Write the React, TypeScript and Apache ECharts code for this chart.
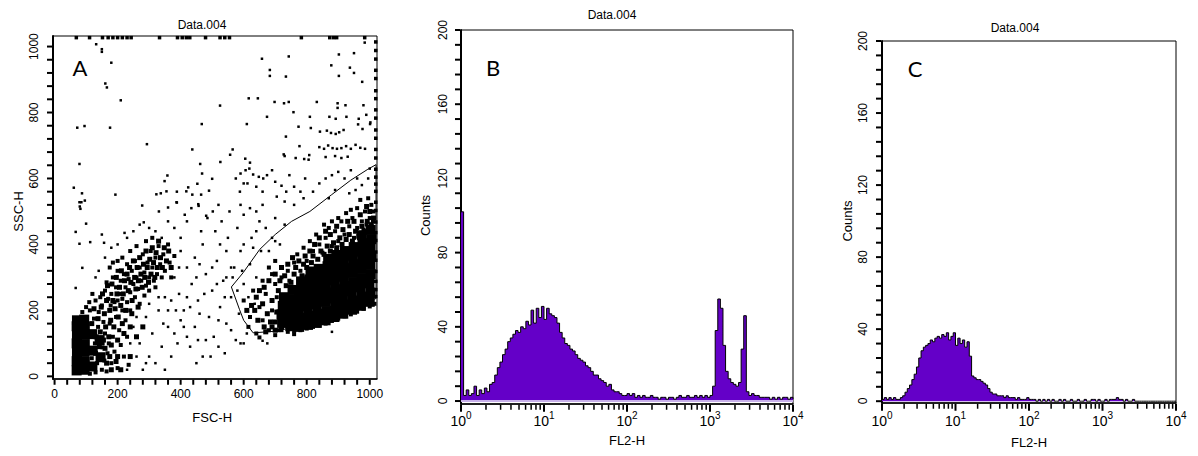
import React, { useEffect, useRef } from "react";
import * as echarts from "echarts";

// ---------- Panel A data: FSC-H vs SSC-H ----------
const aGate = [
  [561, 271], [598, 314], [651, 385], [700, 430], [752, 470], [810, 500], [878, 550],
  [940, 595], [994, 628], [1020, 642], [1020, 236], [1011, 233], [915, 192], [810, 162],
  [704, 137], [630, 132], [600, 170], [587, 202], [561, 271],
];

const aCore = [
  [70, 18], [95, 20], [70, 46], [96, 44], [71, 72], [95, 74], [70, 100], [96, 98], [71, 126], [95, 128],
  [70, 152], [96, 150], [71, 170], [94, 172], [120, 30], [121, 78], [119, 128], [146, 58], [143, 110],
  [722, 162], [720, 188], [724, 214], [728, 240],
  [748, 152], [750, 180], [747, 207], [752, 234], [755, 262],
  [776, 150], [778, 178], [775, 206], [779, 233], [777, 260], [782, 288],
  [804, 156], [806, 184], [803, 212], [807, 240], [805, 268], [808, 294], [812, 318],
  [832, 162], [834, 190], [831, 218], [835, 246], [833, 274], [836, 300], [838, 326],
  [860, 170], [862, 198], [859, 226], [863, 254], [861, 282], [864, 308], [866, 334], [868, 356],
  [888, 180], [890, 208], [887, 236], [891, 264], [889, 292], [892, 318], [890, 344], [894, 368],
  [916, 190], [918, 218], [915, 246], [919, 274], [917, 302], [920, 328], [918, 354], [921, 380],
  [944, 202], [946, 230], [943, 258], [947, 286], [945, 314], [948, 340], [946, 366], [949, 392],
  [972, 214], [974, 242], [971, 270], [975, 298], [973, 326], [976, 352], [974, 378], [977, 404], [975, 428],
  [1000, 226], [1002, 254], [999, 282], [1003, 310], [1001, 338], [1004, 364], [1002, 390], [1005, 416], [1003, 444],
];

const aCluster = [
  [115, 130], [118, 160], [125, 205], [130, 70], [132, 120], [138, 175], [142, 90], [145, 135], [148, 210], [152, 250],
  [155, 110], [158, 190], [162, 150], [165, 230], [168, 275], [172, 120], [175, 200], [178, 170], [182, 280], [185, 230],
  [188, 150], [192, 205], [196, 300], [198, 250], [202, 180], [206, 270], [210, 215], [212, 320], [218, 250], [222, 290],
  [226, 200], [230, 310], [234, 260], [238, 330], [242, 285], [246, 230], [250, 350], [254, 300], [258, 265], [262, 330],
  [266, 290], [270, 360], [274, 310], [278, 270], [282, 340], [286, 300], [290, 380], [294, 330], [298, 285], [302, 355],
  [306, 310], [310, 390], [314, 345], [318, 300], [322, 375], [326, 330], [330, 410], [336, 360], [342, 330], [348, 390],
  [355, 350], [362, 380], [370, 330], [140, 60], [160, 85], [180, 95], [200, 110], [220, 130], [240, 150], [200, 60],
  [215, 160], [245, 190], [265, 210], [180, 20], [195, 45], [210, 20], [240, 60], [260, 120], [280, 150], [175, 60],
  [165, 40],
  [700, 165], [705, 195], [690, 230], [710, 260], [715, 290], [735, 275], [730, 305], [750, 285], [760, 310], [765, 330],
  [785, 305], [790, 340], [800, 330], [815, 345], [820, 365], [835, 355], [845, 380], [855, 370], [865, 395], [875, 380],
  [885, 405], [895, 390], [905, 420], [912, 400], [925, 415], [935, 430], [945, 410], [955, 440], [965, 425], [975, 455],
  [985, 440], [992, 470], [1005, 460], [1012, 480], [1000, 500], [990, 515], [970, 490], [950, 470], [930, 470], [915, 445],
  [895, 455], [875, 430], [860, 440], [840, 420], [825, 400], [810, 380], [795, 365], [775, 350], [755, 360], [740, 340],
  [720, 330], [700, 310], [680, 290], [665, 270], [660, 220], [675, 190], [685, 165], [665, 150], [645, 170], [635, 200],
  [640, 240], [625, 215], [610, 200], [650, 260], [700, 140], [720, 150], [690, 150], [745, 145], [670, 135],
];

const aDense = [
  [112, 8], [118, 55], [130, 12], [135, 40], [128, 100], [138, 150], [125, 175], [140, 195], [112, 200], [150, 20],
  [158, 48], [152, 88], [165, 15], [168, 70], [160, 130], [172, 100], [155, 165], [175, 160], [180, 40], [185, 120],
  [190, 75], [178, 215], [195, 180], [200, 25], [205, 140], [210, 95], [200, 230], [220, 60], [215, 200], [225, 170],
  [230, 120], [235, 35], [110, 225], [100, 210], [130, 230], [88, 195], [120, 250], [145, 240],
  [150, 215], [160, 260], [170, 235], [165, 285], [180, 250], [185, 300], [190, 225], [195, 270], [200, 320], [205, 250],
  [210, 290], [215, 235], [220, 310], [225, 270], [230, 340], [235, 295], [240, 255], [245, 320], [250, 280], [255, 350],
  [260, 300], [265, 265], [270, 330], [275, 290], [280, 370], [285, 315], [290, 275], [295, 345], [300, 300], [305, 380],
  [310, 330], [315, 290], [320, 360], [325, 310], [330, 395], [335, 340], [340, 300], [345, 370], [350, 320], [360, 400],
  [365, 345], [370, 300], [380, 365], [255, 240], [270, 220], [240, 200], [230, 225], [285, 245], [300, 260], [320, 270],
  [175, 330], [215, 360], [240, 380], [260, 395], [290, 410], [310, 420], [200, 350], [185, 345],
  [640, 130], [660, 170], [650, 210], [670, 250], [680, 140], [690, 200], [700, 280], [690, 310], [705, 240], [710, 140],
  [620, 180], [600, 230], [630, 260], [615, 150], [660, 290], [680, 330], [700, 350], [720, 300], [740, 320], [745, 290],
  [760, 345], [780, 320], [770, 370], [800, 350], [790, 390], [820, 380], [810, 410], [840, 400], [850, 375], [830, 430],
  [860, 420], [870, 450], [880, 395], [900, 410], [890, 440], [910, 470], [920, 430], [935, 455], [950, 420], [945, 480],
  [960, 450], [975, 470], [990, 460], [985, 500], [1000, 480], [1010, 470], [960, 510], [940, 505], [925, 495], [900, 480],
  [880, 470], [855, 460], [1005, 520], [995, 540], [970, 535], [1012, 500], [980, 445],
  [720, 140], [740, 135], [760, 138], [780, 140], [800, 145], [820, 150], [840, 155], [860, 160], [880, 168], [900, 175],
  [920, 182], [940, 188], [960, 196], [980, 205], [1000, 212], [1015, 220], [760, 128], [700, 125], [650, 118],
];

const aEdge = [
  [1019, 242], [1019, 263], [1019, 288], [1019, 318], [1019, 352], [1019, 377], [1019, 412], [1019, 436], [1019, 468],
  [1019, 503], [1019, 528], [1019, 561], [1019, 583], [1019, 604], [1019, 628], [1019, 662], [1019, 688], [1019, 722],
  [1019, 747], [1019, 783], [1019, 808], [1019, 842], [1019, 866], [1019, 903], [1019, 928], [1019, 962], [1019, 988],
  [1019, 1014],
  [69, 1027], [111, 1027], [152, 1027], [170, 1027], [185, 1027], [200, 1027], [215, 1027], [230, 1027], [243, 1027],
  [333, 1027], [390, 1027], [405, 1027], [418, 1027], [429, 1027], [479, 1027], [525, 1027], [540, 1027], [555, 1027],
  [783, 1027], [873, 1027], [885, 1027], [895, 1027], [984, 1027],
];

const aSparse = [
  [132, 1007], [150, 992], [150, 984], [180, 951], [161, 888], [166, 876], [210, 837], [72, 754], [95, 759], [176, 754],
  [293, 704], [467, 765], [437, 688], [79, 644], [462, 644], [468, 615], [358, 609], [349, 592], [500, 599], [61, 572],
  [87, 555], [193, 551], [424, 573], [453, 584], [418, 561], [355, 561], [337, 555], [323, 552], [388, 560], [437, 551],
  [465, 551], [490, 563], [79, 528], [96, 533], [278, 518], [387, 528], [456, 522], [80, 515], [85, 528], [82, 508],
  [100, 463], [67, 438], [222, 435], [283, 467], [331, 500], [360, 512], [388, 527], [413, 490], [434, 510], [457, 517],
  [481, 487], [502, 500], [79, 402], [113, 407], [157, 405], [88, 329], [67, 268],
  [984, 1012], [743, 970], [658, 963], [902, 976], [950, 980], [683, 929], [683, 911], [734, 909], [878, 943], [937, 936],
  [950, 920], [976, 893], [902, 911], [616, 843], [645, 843], [525, 821], [698, 832], [728, 828], [743, 832], [832, 832],
  [758, 801], [674, 787], [810, 787], [898, 828], [898, 814], [923, 822], [872, 787], [892, 781], [926, 787], [980, 822],
  [965, 781], [989, 793], [1002, 770], [610, 765], [774, 757], [813, 753], [842, 742], [864, 745], [877, 738], [892, 735],
  [903, 740], [917, 747], [963, 764], [977, 750], [1001, 765], [734, 727], [565, 688], [557, 672], [605, 660], [620, 648],
  [727, 673], [730, 668], [777, 698], [765, 662], [792, 659], [808, 671], [806, 657], [840, 695], [855, 690], [868, 700],
  [882, 692], [896, 690], [910, 692], [925, 698], [940, 690], [955, 702], [970, 693], [985, 690], [860, 665], [890, 668],
  [910, 662], [930, 666], [526, 650], [606, 625], [618, 630], [630, 612], [648, 605], [662, 600], [674, 610], [590, 615],
  [575, 600], [600, 585], [588, 560], [612, 585], [640, 575], [660, 560], [700, 590], [720, 578], [735, 560], [760, 575],
  [780, 560], [795, 600], [745, 610], [690, 625], [705, 545], [730, 530], [760, 520], [790, 540], [820, 560], [840, 585],
  [860, 600], [880, 610], [900, 620], [920, 600], [940, 625], [960, 600], [975, 580], [995, 600], [1000, 630], [955, 565],
  [935, 555], [890, 565], [870, 540],
  [380, 300], [395, 250], [410, 200], [420, 330], [435, 280], [445, 150], [455, 230], [470, 400], [480, 310], [490, 180],
  [500, 260], [505, 120], [515, 350], [525, 210], [535, 290], [545, 160], [550, 420], [560, 240], [570, 330], [575, 110],
  [585, 190], [590, 380], [600, 280], [610, 130], [620, 340], [625, 420], [635, 220], [650, 470], [655, 380], [670, 450],
  [675, 100], [690, 420], [700, 480], [715, 400], [730, 460], [400, 420], [420, 470], [445, 360], [465, 440], [485, 480],
  [510, 440], [530, 470], [555, 500], [580, 450], [600, 490], [620, 510], [640, 500], [660, 520], [390, 100], [430, 90],
  [470, 60], [480, 110], [520, 90], [540, 70], [560, 140], [590, 100], [450, 40], [400, 170], [370, 230], [360, 150],
  [380, 130], [420, 240], [460, 190], [500, 330], [545, 380], [565, 300], [400, 380], [460, 340], [525, 400], [595, 320],
  [640, 300], [630, 390], [680, 380], [700, 410],
  [250, 150], [270, 100], [290, 180], [300, 60], [310, 130], [320, 40], [330, 200], [340, 90], [350, 240], [290, 40],
  [260, 60], [240, 100], [230, 20], [280, 20], [350, 20], [260, 180], [300, 220], [330, 240], [360, 200], [345, 160],
  [370, 60], [230, 420], [250, 440], [200, 400], [180, 390], [160, 360], [140, 320], [130, 300], [150, 430], [270, 460],
  [300, 450], [320, 440], [340, 420], [380, 450], [360, 470], [880, 135], [600, 100], [660, 108],
  [410, 150], [430, 210], [450, 300], [395, 330], [475, 250], [520, 170], [540, 240], [560, 330], [580, 260], [615, 240],
  [385, 200], [420, 120], [455, 110], [495, 60], [515, 280], [545, 300], [600, 400], [640, 440], [590, 520], [520, 520],
];

// ---------- Panels B and C: FL2-H histograms (channel: 64 per decade) ----------
const histChannels = [
  0, 2, 4, 6, 8, 10, 12, 14, 16, 18, 20, 22, 24, 26, 28, 30, 32, 34, 36, 38, 40, 42, 44, 46, 48, 50, 52, 54, 56, 58,
  60, 62, 64, 66, 68, 70, 72, 74, 76, 78, 80, 82, 84, 86, 88, 90, 92, 94, 96, 98, 100, 102, 104, 106, 108, 110, 112,
  114, 116, 118, 120, 122, 124, 126, 128, 130, 132, 134, 136, 138, 140, 142, 144, 146, 148, 150, 152, 154, 156, 158,
  160, 162, 164, 166, 168, 170, 172, 174, 176, 178, 180, 182, 184, 186, 188, 190, 192, 194, 196, 198, 200, 202, 204,
  206, 208, 210, 212, 214, 216, 218, 220, 222, 224, 226, 228, 230, 232, 234, 236, 238, 240, 242, 244, 246, 248, 250,
  252, 254, 256,
];

const bCounts = [
  102, 3, 6, 3, 4, 8, 3, 6, 4, 7, 5, 9, 10, 14, 18, 21, 25, 28, 32, 34, 36, 38, 37, 40, 39, 43, 41, 49, 42, 50,
  45, 51, 44, 50, 47, 46, 45, 42, 37, 34, 31, 30, 28, 27, 25, 23, 22, 21, 19, 18, 16, 14, 14, 12, 11, 10, 8,
  9, 6, 5, 5, 4, 3, 3, 4, 3, 4, 2, 3, 2, 3, 2, 2, 3, 2, 2, 1, 2, 2, 1,
  2, 2, 1, 2, 3, 2, 2, 3, 2, 2, 3, 2, 3, 2, 3, 2, 3, 8, 38, 55, 50, 30, 16,
  12, 10, 9, 8, 10, 28, 46, 5, 3, 4, 3, 3, 2, 2, 2, 2, 1, 2, 1, 2, 1, 2,
  2, 1, 2, 1,
];

const cCounts = [
  1, 2, 1, 2, 1, 2, 1, 1, 2, 3, 5, 7, 9, 12, 15, 19, 24, 28, 30, 31, 32, 34, 33, 35, 36, 35, 37, 36, 38, 34,
  36, 38, 31, 35, 32, 34, 30, 33, 25, 14, 13, 12, 12, 11, 10, 9, 7, 5, 4, 4, 3, 3, 3, 2, 3, 2, 2,
  2, 1, 2, 1, 1, 1, 2, 1, 1, 1, 0, 1, 0, 1, 0, 1, 0, 1, 0, 0, 1, 0, 1,
  0, 0, 1, 0, 0, 1, 0, 0, 1, 0, 0, 1, 1, 0, 1, 0, 0, 1, 0, 1, 1, 1, 2,
  1, 1, 0, 1, 0, 0, 1, 0, 0, 0, 0, 0, 0, 0, 0, 0, 0, 0, 0, 0, 0, 0,
  0, 0, 0, 0,
];

// ---------- Tick definitions ----------
const aLabelStep = 200;
const aTickValues = [
  0, 40, 80, 120, 160, 200, 240, 280, 320, 360, 400, 440, 480, 520, 560, 600, 640, 680, 720, 760, 800, 840, 880,
  920, 960, 1000,
];
const countLabelStep = 40;
const countTickValues = [
  0, 8, 16, 24, 32, 40, 48, 56, 64, 72, 80, 88, 96, 104, 112, 120, 128, 136, 144, 152, 160, 168, 176, 184, 192, 200,
];
const channelsPerDecade = 64;
const decadeTickValues = [0, 64, 128, 192, 256];
const decadeMultiples = [2, 3, 4, 5, 6, 7, 8, 9];

const PURPLE = "#6400c8";
const LABEL_FONT = "'Liberation Sans', Arial, sans-serif";

function logMinorTicks(): number[] {
  const out: number[] = [];
  for (let d = 0; d < 4; d++) {
    for (const k of decadeMultiples) out.push((d + Math.log10(k)) * channelsPerDecade);
  }
  return out;
}

function pairs(xs: number[], ys: number[]) {
  return xs.map((x, i) => [x, ys[i]]);
}

// panel layout: frame rectangle and axis ranges
type Panel = { left: number; top: number; width: number; height: number; x: number[]; y: number[] };
const EXT = 14; // extra room (px) left of and below each frame, so ticks sit inside the data grid

function extGrid(p: Panel) {
  const pxX = p.width / (p.x[1] - p.x[0]);
  const pxY = p.height / (p.y[1] - p.y[0]);
  return {
    grid: { left: p.left - EXT, top: p.top, width: p.width + EXT, height: p.height + EXT, show: false },
    xMin: p.x[0] - EXT / pxX,
    yMin: p.y[0] - EXT / pxY,
    unitX: (px: number) => px / pxX,
    unitY: (px: number) => px / pxY,
  };
}

export default function App() {
  const ref = useRef<HTMLDivElement>(null);

  useEffect(() => {
    if (!ref.current) return;
    const chart = echarts.init(ref.current, undefined, { renderer: "svg" });

    const labelBase = { color: "#000", fontFamily: LABEL_FONT, fontSize: 12 };
    const nameStyle = { color: "#000", fontFamily: LABEL_FONT, fontSize: 13 };

    const pA: Panel = { left: 53, top: 36, width: 324, height: 343, x: [-5, 1023], y: [-8, 1032] };
    const pB: Panel = { left: 461, top: 30, width: 332, height: 374, x: [0, 256], y: [-1.6, 200] };
    const pC: Panel = { left: 882, top: 41, width: 294, height: 362, x: [0, 256], y: [-1, 200] };
    const eA = extGrid(pA);
    const eB = extGrid(pB);
    const eC = extGrid(pC);

    const frame = (p: Panel) => ({ left: p.left, top: p.top, width: p.width, height: p.height, show: true });

    // 0 A data, 1 A frame, 2 A x-label helper, 3 A y-label helper,
    // 4 B data, 5 B frame, 6 B y-label helper, 7 C data, 8 C frame, 9 C y-label helper
    const grids = [
      eA.grid,
      frame(pA),
      { left: 53 + (5 / 1028) * 324, top: 36, width: (1000 / 1028) * 324, height: 343, show: false },
      { left: 53, top: 379 - (1008 / 1040) * 343, width: 324, height: (1000 / 1040) * 343, show: false },
      eB.grid,
      frame(pB),
      { left: 461, top: 30, width: 332, height: 371, show: false },
      eC.grid,
      frame(pC),
      { left: 882, top: 41, width: 294, height: 360, show: false },
    ];

    const hiddenAxis = (gridIndex: number, min = 0, max = 1) => ({ gridIndex, type: "value", min, max, show: false });

    const frameX = (gridIndex: number, p: Panel) => ({
      gridIndex, type: "value", min: p.x[0], max: p.x[1],
      axisLine: { show: true, onZero: false, lineStyle: { color: "#000", width: 1.5 } },
      axisTick: { show: false }, axisLabel: { show: false }, splitLine: { show: false },
    });
    const frameY = (gridIndex: number, p: Panel) => ({
      gridIndex, type: "value", min: p.y[0], max: p.y[1],
      axisLine: { show: true, onZero: false, lineStyle: { color: "#000", width: 2 } },
      axisTick: { show: false }, axisLabel: { show: false }, splitLine: { show: false },
    });

    const decadeAxis = (gridIndex: number, margin: number, nameGap: number) => ({
      gridIndex,
      type: "value",
      min: 0,
      max: 4 * channelsPerDecade,
      interval: channelsPerDecade,
      name: "FL2-H",
      nameLocation: "middle",
      nameGap,
      nameTextStyle: nameStyle,
      axisLine: { show: true, onZero: false, lineStyle: { color: "#000", width: 1.5 } },
      axisTick: { show: false },
      axisLabel: {
        margin,
        formatter: (v: number) => `{b|10}{s|${Math.round(v / channelsPerDecade)}}`,
        rich: {
          b: { fontSize: 14, fontFamily: LABEL_FONT, color: "#000", lineHeight: 18, verticalAlign: "bottom" },
          s: { fontSize: 10, fontFamily: LABEL_FONT, color: "#000", lineHeight: 10, verticalAlign: "top" },
        },
      },
      splitLine: { show: false },
    });

    const countAxis = (gridIndex: number, margin: number, nameGap: number) => ({
      gridIndex,
      type: "value",
      min: 0,
      max: 200,
      interval: countLabelStep,
      name: "Counts",
      nameLocation: "middle",
      nameGap,
      nameTextStyle: nameStyle,
      axisLine: { show: false },
      axisTick: { show: false },
      axisLabel: { ...labelBase, rotate: 90, margin },
      splitLine: { show: false },
    });

    const histSeries = (gridIndex: number, counts: number[], withBase: boolean) => ({
      type: "line",
      xAxisIndex: gridIndex,
      yAxisIndex: gridIndex,
      step: "end",
      symbol: "none",
      data: pairs(histChannels, counts),
      lineStyle: { color: "#000", width: 1 },
      areaStyle: { color: PURPLE, opacity: 1, origin: 0 },
      z: 3,
      markLine: withBase
        ? {
            silent: true,
            symbol: "none",
            label: { show: false },
            lineStyle: { color: "#c8b0ea", width: 2, type: "solid" },
            data: [[{ coord: [0, 0] }, { coord: [4 * channelsPerDecade, 0] }]],
          }
        : undefined,
    });

    // tick marks: small rect symbols placed through the data grid's scales, just outside each frame
    const ticks = (gridIndex: number, data: number[][], size: number[]) => ({
      type: "scatter",
      xAxisIndex: gridIndex,
      yAxisIndex: gridIndex,
      symbol: "rect",
      symbolSize: size,
      silent: true,
      itemStyle: { color: "#000", opacity: 1 },
      data,
      z: 6,
    });
    const xTicks = (gi: number, p: Panel, e: any, vals: number[], len: number, w: number) =>
      ticks(gi, vals.map((v) => [v, p.y[0] - e.unitY(0.75 + len / 2)]), [w, len]);
    const yTicks = (gi: number, p: Panel, e: any, vals: number[], len: number, w: number) =>
      ticks(gi, vals.map((v) => [p.x[0] - e.unitX(1 + len / 2), v]), [len, w]);

    const scatter = (data: number[][], size: number) => ({
      type: "scatter", xAxisIndex: 0, yAxisIndex: 0, symbol: "rect", symbolSize: size,
      itemStyle: { color: "#000", opacity: 1 }, data, silent: true,
    });

    const option: any = {
      animation: false,
      backgroundColor: "#fff",
      grid: grids.map((g) => ({ ...g, borderColor: "#000", borderWidth: 1, backgroundColor: "transparent" })),
      xAxis: [
        hiddenAxis(0, eA.xMin, pA.x[1]),
        frameX(1, pA),
        {
          gridIndex: 2,
          type: "value",
          min: 0,
          max: 1000,
          interval: aLabelStep,
          name: "FSC-H",
          nameLocation: "middle",
          nameGap: 32,
          nameTextStyle: nameStyle,
          axisLine: { show: false },
          axisTick: { show: false },
          axisLabel: { ...labelBase, margin: 9, formatter: (v: number) => String(v) },
          splitLine: { show: false },
        },
        hiddenAxis(3),
        hiddenAxis(4, eB.xMin, pB.x[1]),
        { ...decadeAxis(5, 6, 30), min: pB.x[0], max: pB.x[1] },
        hiddenAxis(6),
        hiddenAxis(7, eC.xMin, pC.x[1]),
        { ...decadeAxis(8, 7, 33), min: pC.x[0], max: pC.x[1] },
        hiddenAxis(9),
      ],
      yAxis: [
        hiddenAxis(0, eA.yMin, pA.y[1]),
        frameY(1, pA),
        hiddenAxis(2),
        {
          gridIndex: 3,
          type: "value",
          min: 0,
          max: 1000,
          interval: aLabelStep,
          name: "SSC-H",
          nameLocation: "middle",
          nameGap: 28,
          nameTextStyle: nameStyle,
          axisLine: { show: false },
          axisTick: { show: false },
          axisLabel: { ...labelBase, rotate: 90, margin: 13, formatter: (v: number) => String(v) },
          splitLine: { show: false },
        },
        hiddenAxis(4, eB.yMin, pB.y[1]),
        frameY(5, pB),
        countAxis(6, 12, 29),
        hiddenAxis(7, eC.yMin, pC.y[1]),
        frameY(8, pC),
        countAxis(9, 13, 28),
      ],
      series: [
        scatter(aCore, 10),
        scatter(aCluster, 5),
        scatter(aDense, 4),
        scatter(aEdge, 3.5),
        scatter(aSparse, 2.5),
        {
          type: "line", xAxisIndex: 0, yAxisIndex: 0, symbol: "none", data: aGate,
          lineStyle: { color: "#000", width: 1 }, z: 4,
        },
        histSeries(4, bCounts, true),
        histSeries(7, cCounts, false),
        // panel A ticks
        xTicks(0, pA, eA, aTickValues, 5, 2),
        yTicks(0, pA, eA, aTickValues, 5, 2),
        // panel B ticks
        xTicks(4, pB, eB, decadeTickValues, 7, 2),
        xTicks(4, pB, eB, logMinorTicks(), 5, 1.5),
        yTicks(4, pB, eB, countTickValues, 5, 2),
        // panel C ticks
        xTicks(7, pC, eC, decadeTickValues, 7, 2),
        xTicks(7, pC, eC, logMinorTicks(), 5, 1.5),
        yTicks(7, pC, eC, countTickValues, 5, 2),
      ],
      graphic: [
        { type: "text", x: 202, y: 25, style: { text: "Data.004", align: "center", verticalAlign: "middle", fill: "#000", font: `12px ${LABEL_FONT}` } },
        { type: "text", x: 612, y: 15, style: { text: "Data.004", align: "center", verticalAlign: "middle", fill: "#000", font: `12px ${LABEL_FONT}` } },
        { type: "text", x: 1015, y: 28, style: { text: "Data.004", align: "center", verticalAlign: "middle", fill: "#000", font: `12px ${LABEL_FONT}` } },
        { type: "text", x: 80, y: 67, style: { text: "A", align: "center", verticalAlign: "middle", fill: "#000", font: "22px Lato, 'Open Sans', sans-serif" } },
        { type: "text", x: 493, y: 67, style: { text: "B", align: "center", verticalAlign: "middle", fill: "#000", font: "22px Lato, 'Open Sans', sans-serif" } },
        { type: "text", x: 915, y: 68, style: { text: "C", align: "center", verticalAlign: "middle", fill: "#000", font: "22px Lato, 'Open Sans', sans-serif" } },
      ],
    };

    chart.setOption(option);
    return () => chart.dispose();
  }, []);

  return <div ref={ref} style={{ position: "fixed", left: 0, top: 0, width: 1198, height: 456, background: "#fff" }} />;
}
